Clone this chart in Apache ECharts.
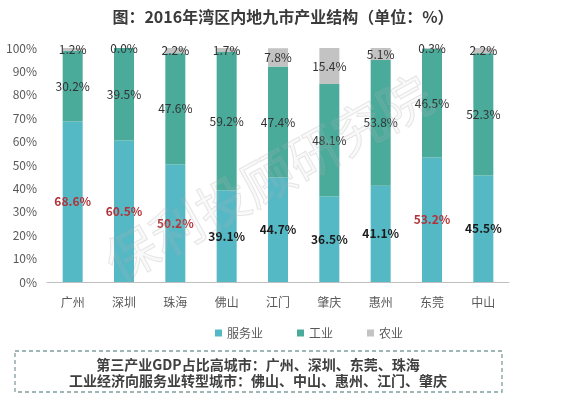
<!DOCTYPE html>
<html><head><meta charset="utf-8">
<script src="https://cdn.jsdelivr.net/npm/echarts@6/dist/echarts.min.js"></script>
<style>html,body{margin:0;padding:0;background:#fff}#c{width:566px;height:400px}</style>
</head><body><div id="c"></div>
<script>
const categories = ['广州','深圳','珠海','佛山','江门','肇庆','惠州','东莞','中山'];
const services = [68.6, 60.5, 50.2, 39.1, 44.7, 36.5, 41.1, 53.2, 45.5];
const industry = [30.2, 39.5, 47.6, 59.2, 47.4, 48.1, 53.8, 46.5, 52.3];
const agriculture = [1.2, 0.0, 2.2, 1.7, 7.8, 15.4, 5.1, 0.3, 2.2];
const highlighted = ['广州','深圳','珠海','东莞'];
const yTicks = [0,10,20,30,40,50,60,70,80,90,100];

const FONT = '"Noto Sans CJK SC", "Noto Sans", sans-serif';
const chart = echarts.init(document.getElementById('c'));
const svcData = services.map((v,i)=>({
  value: v,
  label: { color: highlighted.includes(categories[i]) ? '#b0343a' : '#1a1a1a' }
}));
chart.setOption({
  animation: false,
  textStyle: { fontFamily: FONT },
  title: {
    text: '图：2016年湾区内地九市产业结构（单位：%）',
    left: 'center', top: 4,
    textStyle: { fontSize: 16, fontWeight: 'bold', color: '#3a3a3a', fontFamily: FONT }
  },
  legend: {
    top: 322, left: 210,
    itemWidth: 7, itemHeight: 7, itemGap: 34,
    icon: 'rect',
    textStyle: { fontSize: 12, color: '#595959', fontFamily: FONT },
    data: ['服务业','工业','农业']
  },
  grid: { left: 47, right: 57, top: 48, bottom: 118 },
  xAxis: {
    type: 'category', data: categories,
    axisLine: { lineStyle: { color: '#bfbfbf' } },
    axisTick: { show: false },
    axisLabel: { fontSize: 12, color: '#595959', margin: 14 }
  },
  yAxis: {
    type: 'value', min: 0, max: 100, interval: 10,
    axisLine: { show: false }, axisTick: { show: false },
    splitLine: { show: false },
    axisLabel: { fontSize: 12, color: '#595959', margin: 10,
      formatter: v => yTicks.includes(v) ? v + '%' : '' }
  },
  series: [
    { name: '服务业', type: 'bar', stack: 's', barWidth: 20, data: svcData,
      itemStyle: { color: '#55b8c5' },
      label: { show: true, position: 'inside', fontSize: 12, fontWeight: 'bold',
        formatter: p => p.value.toFixed(1) + '%' } },
    { name: '工业', type: 'bar', stack: 's', barWidth: 20, data: industry,
      itemStyle: { color: '#4bab9b' },
      label: { show: true, position: 'inside', fontSize: 12, color: '#333',
        formatter: p => p.value.toFixed(1) + '%' } },
    { name: '农业', type: 'bar', stack: 's', barWidth: 20, data: agriculture,
      itemStyle: { color: '#c3c3c3' },
      label: { show: true, position: 'inside', fontSize: 12, color: '#333',
        formatter: p => p.value.toFixed(1) + '%' } }
  ],
  graphic: [
    { type: 'text', rotation: Math.PI*29/180, silent: true, z: 100,
      x: 268, y: 178,
      style: { text: '保利投顾研究院', font: '52px ' + FONT, fill: 'rgba(200,200,200,0.10)',
        stroke: 'rgba(170,170,170,0.28)', lineWidth: 1, align: 'center', verticalAlign: 'middle' } },
    { type: 'rect', shape: { x: 15, y: 351, width: 487, height: 41 },
      style: { fill: 'none', stroke: '#7f9e9e', lineWidth: 1.3, lineDash: [4,3] } },
    { type: 'text', x: 258, y: 365,
      style: { text: '第三产业GDP占比高城市：广州、深圳、东莞、珠海', font: 'bold 14px ' + FONT,
        fill: '#404040', align: 'center', verticalAlign: 'middle' } },
    { type: 'text', x: 258, y: 381,
      style: { text: '工业经济向服务业转型城市：佛山、中山、惠州、江门、肇庆', font: 'bold 14px ' + FONT,
        fill: '#404040', align: 'center', verticalAlign: 'middle' } }
  ]
});
</script></body></html>
